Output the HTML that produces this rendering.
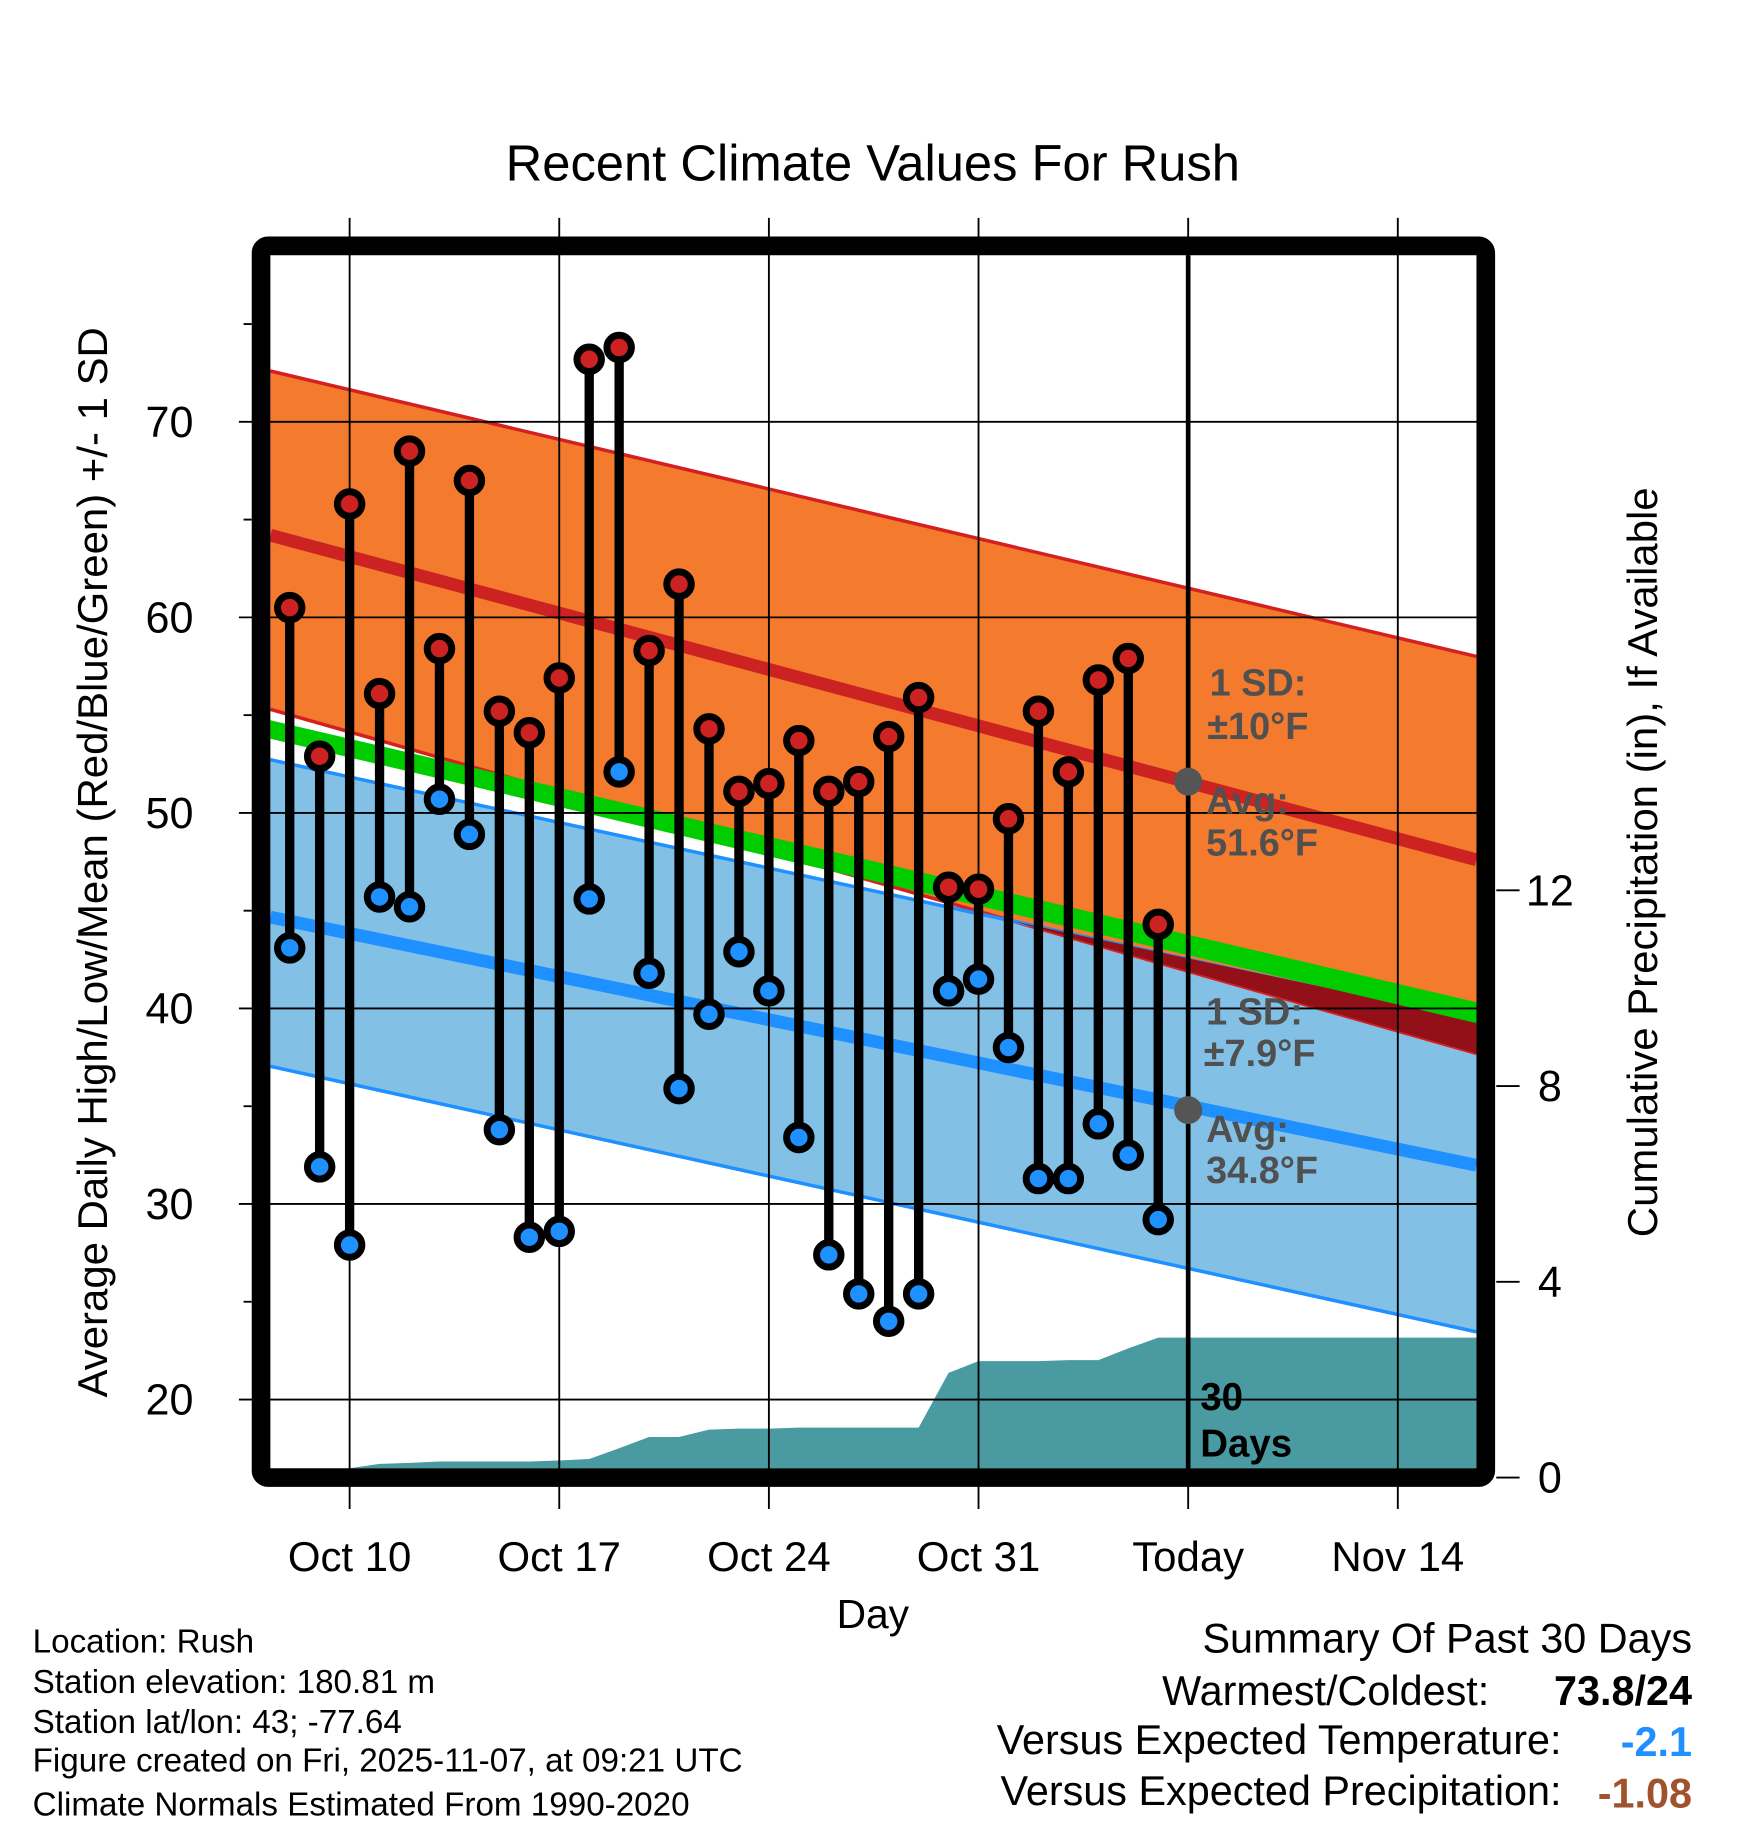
<!DOCTYPE html>
<html><head><meta charset="utf-8"><style>html,body{margin:0;padding:0;background:#fff}svg{display:block}</style></head>
<body>
<svg id="chart" width="1748" height="1828" viewBox="0 0 1500 1568.7" xmlns="http://www.w3.org/2000/svg" font-family="Liberation Sans, sans-serif">
<rect x="0" y="0" width="1500" height="1568.7" fill="#fff"/>
<g id="fills"></g>
<g id="grid"></g>
<g id="marks"></g>
<g id="frame"></g>
<text x="749" y="155" font-size="43.5" text-anchor="middle">Recent Climate Values For Rush</text>
<text transform="translate(92,740) rotate(-90)" font-size="36" text-anchor="middle">Average Daily High/Low/Mean (Red/Blue/Green) +/- 1 SD</text>
<text transform="translate(1422,740) rotate(-90)" font-size="36" text-anchor="middle">Cumulative Precipitation (in), If Available</text>
<text x="749" y="1397" font-size="35" text-anchor="middle">Day</text>
<g font-size="28.5">
<text x="28" y="1418">Location: Rush</text>
<text x="28" y="1453">Station elevation: 180.81 m</text>
<text x="28" y="1487">Station lat/lon: 43; -77.64</text>
<text x="28" y="1520">Figure created on Fri, 2025-11-07, at 09:21 UTC</text>
<text x="28" y="1558">Climate Normals Estimated From 1990-2020</text>
</g>
<g font-size="35.5" text-anchor="end">
<text x="1452" y="1418">Summary Of Past 30 Days</text>
<text x="1278" y="1463">Warmest/Coldest:</text>
<text x="1452" y="1463" font-weight="bold">73.8/24</text>
<text x="1340" y="1505">Versus Expected Temperature:</text>
<text x="1452" y="1507" font-weight="bold" fill="#1e90ff">-2.1</text>
<text x="1340" y="1549">Versus Expected Precipitation:</text>
<text x="1452" y="1551" font-weight="bold" fill="#a0522d">-1.08</text>
</g>
<script>
const days = [0,1,2,3,4,5,6,7,8,9,10,11,12,13,14,15,16,17,18,19,20,21,22,23,24,25,26,27,28,29];
const highs = [60.5,52.9,65.8,56.1,68.5,58.4,67.0,55.2,54.1,56.9,73.2,73.8,58.3,61.7,54.3,51.1,51.5,53.7,51.1,51.6,53.9,55.9,46.2,46.1,49.7,55.2,52.1,56.8,57.9,44.3];
const lows = [43.1,31.9,27.9,45.7,45.2,50.7,48.9,33.8,28.3,28.6,45.6,52.1,41.8,35.9,39.7,42.9,40.9,33.4,27.4,25.4,24.0,25.4,40.9,41.5,38.0,31.3,31.3,34.1,32.5,29.2];
const precip = [0,0,0,0.28,0.3,0.33,0.33,0.33,0.33,0.35,0.38,0.6,0.83,0.83,0.98,1.0,1.0,1.02,1.02,1.02,1.02,1.02,2.14,2.38,2.38,2.38,2.4,2.4,2.64,2.86];
const normHiUp = [72.6,58.0];
const normHiAvg = [64.2,47.6];
const normHiLow = [55.3,37.7];
const normMeanTop = [54.74,40.32];
const normMeanBot = [53.79,39.25];
const normLoUp = [52.72,39.31];
const normLoAvg = [44.67,31.98];
const normLoLow = [37.04,23.46];
const yTicks = [20,30,40,50,60,70];
const yMinor = [25,35,45,55,65,75];
const pTicks = [0,4,8,12];
const xTickDays = [2,9,16,23,30,37];
const xTickLabels = ["Oct 10","Oct 17","Oct 24","Oct 31","Today","Nov 14"];
const todayDay = 30;
const todayHiAvg = 51.6, todayLoAvg = 34.8;

const NS="http://www.w3.org/2000/svg";
const L=232,R=1267,T=219,B=1260;
function xs(d){return 248.6+25.7*d;}
function ys(t){return 362+(70-t)*16.78;}
function ps(p){return 1268-42*p;}
function mk(parent,tag,attrs){const e=document.createElementNS(NS,tag);for(const k in attrs)e.setAttribute(k,attrs[k]);parent.appendChild(e);return e;}
const fills=document.getElementById('fills'),grid=document.getElementById('grid'),marks=document.getElementById('marks'),frame=document.getElementById('frame');
function edgeY(arr,x){const f=(x-L)/(R-L);return ys(arr[0]+(arr[1]-arr[0])*f);}
function band(a,b,color,name){
  const p=mk(fills,'polygon',{points:`${L},${edgeY(a,L)} ${R},${edgeY(a,R)} ${R},${edgeY(b,R)} ${L},${edgeY(b,L)}`,fill:color});
  
  
}
let pts=`${L},${B} `;
pts+=`${L},${Math.min(B,ps(precip[0]))} `;
days.forEach((d,i)=>{pts+=`${xs(d)},${Math.min(B,ps(precip[i]))} `;});
pts+=`${R},${Math.min(B,ps(precip[precip.length-1]))} ${R},${B}`;
band(normHiUp,normHiLow,'#f47a2e','high-sd-band');
band(normLoUp,normLoLow,'#82c0e6','low-sd-band');
function line(arr,color,w,name){const l=mk(fills,'line',{x1:L,y1:edgeY(arr,L),x2:R,y2:edgeY(arr,R),stroke:color,'stroke-width':w});
  
  }
line(normHiUp,'#d42020',3,'high-plus-sd-line');
line(normHiLow,'#d42020',3,'high-minus-sd-line');
line(normLoUp,'#1e90ff',3,'low-plus-sd-line');
line(normLoLow,'#1e90ff',3,'low-minus-sd-line');
{
  const dl=edgeY(normHiLow,L)-edgeY(normLoUp,L), dr=edgeY(normHiLow,R)-edgeY(normLoUp,R);
  if(dr>0){
    const xi = dl>0?L:L+(R-L)*(-dl)/(dr-dl);
    const p=mk(fills,'polygon',{points:`${xi},${edgeY(normLoUp,xi)} ${R},${edgeY(normLoUp,R)-2} ${R},${edgeY(normHiLow,R)}`,fill:'#941018'});
    
    
  }
}
band(normMeanTop,normMeanBot,'#00cc00','mean-band');
line(normHiAvg,'#cc2222',11,'high-average-line');
line(normLoAvg,'#1e90ff',11,'low-average-line');
const pa=mk(fills,'polygon',{points:pts,fill:'#4a9aa2'});


yTicks.forEach(t=>{const l=mk(grid,'line',{x1:205,y1:ys(t),x2:R,y2:ys(t),stroke:'#000','stroke-width':1.6});
  
  
  const tx=mk(grid,'text',{x:166,y:ys(t)+13,'font-size':37,'text-anchor':'end'});tx.textContent=t;
  
  });
yMinor.forEach(t=>{const l=mk(grid,'line',{x1:209,y1:ys(t),x2:216,y2:ys(t),stroke:'#000','stroke-width':1.6});
  
  });
pTicks.forEach(p=>{const l=mk(grid,'line',{x1:1284,y1:ps(p),x2:1304,y2:ps(p),stroke:'#000','stroke-width':1.6});
  
  
  const tx=mk(grid,'text',{x:1330,y:ps(p)+13,'font-size':37,'text-anchor':'middle'});tx.textContent=p;
  
  });
xTickDays.forEach((d,i)=>{const isT=d===todayDay;
  const l=mk(grid,'line',{x1:xs(d),y1:isT?T:187,x2:xs(d),y2:isT?B:1295,stroke:'#000','stroke-width':isT?4:1.6});
  
  
  const tx=mk(grid,'text',{x:xs(d),y:1348,'font-size':36,'text-anchor':'middle'});tx.textContent=xTickLabels[i];
  
  });
{const l=mk(grid,'line',{x1:xs(todayDay),y1:187,x2:xs(todayDay),y2:1295,stroke:'#000','stroke-width':1.6});
  
  }
days.forEach((d,i)=>{const x=xs(d);
  const s=mk(marks,'line',{x1:x,y1:ys(highs[i]),x2:x,y2:ys(lows[i]),stroke:'#000','stroke-width':8});
  
  
  const h=mk(marks,'circle',{cx:x,cy:ys(highs[i]),r:10.5,fill:'#cc2222',stroke:'#000','stroke-width':6});
  
  
  const lo=mk(marks,'circle',{cx:x,cy:ys(lows[i]),r:10.5,fill:'#1e90ff',stroke:'#000','stroke-width':6});
  
  });
[[todayHiAvg,'today-high-avg-dot'],[todayLoAvg,'today-low-avg-dot']].forEach(a=>{const c=mk(marks,'circle',{cx:xs(todayDay),cy:ys(a[0]),r:12,fill:'#555'});
  
  });
const ann=[["1 SD:",1038,597],["±10°F",1036,634],["Avg:",1035,698],[todayHiAvg+"°F",1035,734],["1 SD:",1035,879],["±7.9°F",1033,915],["Avg:",1035,980],[todayLoAvg+"°F",1035,1015]];
ann.forEach(a=>{const t=mk(marks,'text',{x:a[1],y:a[2],'font-size':32.5,'font-weight':'bold',fill:'#505050'});t.textContent=a[0];
  
  });
[["30",1030,1210],["Days",1030,1250]].forEach(a=>{const t=mk(marks,'text',{x:a[1],y:a[2],'font-size':33,'font-weight':'bold',fill:'#000'});t.textContent=a[0];
  
  });
{const f=mk(frame,'rect',{x:224,y:211,width:1051,height:1057,rx:6,fill:'none',stroke:'#000','stroke-width':16});
  
  }
</script>
</svg>
</body></html>
